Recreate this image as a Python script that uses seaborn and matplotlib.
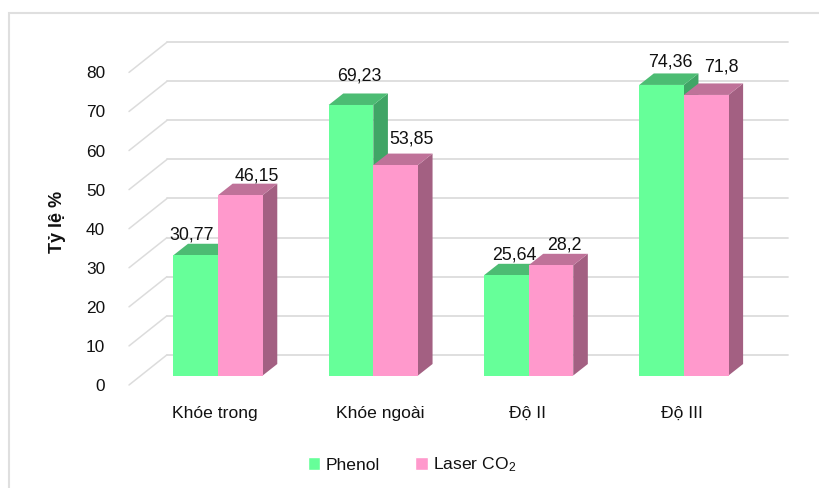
import matplotlib
matplotlib.use("Agg")
import matplotlib.pyplot as plt
from matplotlib.lines import Line2D
from matplotlib.patches import Polygon, Patch, Rectangle
from matplotlib.transforms import Affine2D
import pandas as pd
import seaborn as sns

# Results per group and treatment (percent)
categories = ["Khóe trong", "Khóe ngoài", "Độ II", "Độ III"]
phenol = [30.77, 69.23, 25.64, 74.36]
laser = [46.15, 53.85, 28.2, 71.8]
value_labels = ["30,77", "69,23", "25,64", "74,36", "46,15", "53,85", "28,2", "71,8"]
y_ticks = [0, 10, 20, 30, 40, 50, 60, 70, 80]
series = ["Phenol", "Laser CO$_2$"]

# Pixel nudges of the value labels above each bar's front top edge
label_nudge = [(-4, 20), (8, 29), (8, 20), (8.5, 23), (16, 19), (16, 26), (13, 20), (15, 28)]
# Horizontal pixel nudges of the category labels
category_nudge = [-3.5, 7, -1.5, -2]

W, H = 819, 488
GREEN, GREEN_SIDE, GREEN_TOP = "#66FF99", "#40A566", "#4CBC73"
PINK, PINK_SIDE, PINK_TOP = "#FF99CC", "#A36082", "#BF7299"
GRID = "#DCDCDC"
TEXT = "#111111"
DEPTH_X, DEPTH_Y = 14.6, 11.5

sns.set_theme(style="white")
plt.rcParams["font.family"] = ["Liberation Sans", "DejaVu Sans"]
plt.rcParams["mathtext.fontset"] = "custom"
plt.rcParams["mathtext.rm"] = "Liberation Sans"
plt.rcParams["mathtext.default"] = "rm"

fig = plt.figure(figsize=(W / 100, H / 100), dpi=100)
LEFT, RIGHT, BOTTOM_Y, TOP_Y = 140.4, 761.5, 375.5, 62.9
ax = fig.add_axes([LEFT / W, 1 - BOTTOM_Y / H, (RIGHT - LEFT) / W, (BOTTOM_Y - TOP_Y) / H])
ax.patch.set_alpha(0)

df = pd.DataFrame({
    "cat": categories * 2,
    "value": phenol + laser,
    "series": [series[0]] * 4 + [series[1]] * 4,
})
sns.barplot(data=df, x="cat", y="value", hue="series", hue_order=series,
            palette=[GREEN, PINK], width=0.575, gap=0, saturation=1,
            linewidth=0, ax=ax, zorder=4, legend=False)

ax.set_xlim(-0.5, 3.5)
ax.set_ylim(0, 80)
for s in ax.spines.values():
    s.set_visible(False)


def shifted(base, dx, dy):
    """base transform moved by dx, dy pixels (dy upwards)."""
    return base + Affine2D().translate(dx, dy)


# Back wall and side wall gridlines
WALL_BACK_X = (167 - LEFT) / (RIGHT - LEFT)
WALL_END_X = (788 - LEFT) / (RIGHT - LEFT)
WALL_FRONT_X = (129 - LEFT) / (RIGHT - LEFT)
back = shifted(ax.get_yaxis_transform(), 0, 20.7)
front = shifted(ax.get_yaxis_transform(), 0, -9.5)
for t in y_ticks:
    ax.add_line(Line2D([WALL_BACK_X, WALL_END_X], [t, t], transform=back,
                       color=GRID, lw=1.3, zorder=1, clip_on=False))
    # each end of the diagonal uses its own vertical shift
    p0 = front.transform((WALL_FRONT_X, t))
    p1 = back.transform((WALL_BACK_X, t))
    ax.add_line(Line2D([p0[0], p1[0]], [p0[1], p1[1]], transform=Affine2D(),
                       color=GRID, lw=1.1, zorder=1, clip_on=False))

# Side and top faces derived from each bar's rectangle
bars = list(ax.patches)
for i, bar in enumerate(bars):
    x0, x1 = bar.get_x(), bar.get_x() + bar.get_width()
    v = bar.get_height()
    (px0, py), (px1, _) = ax.transData.transform([(x0, v), (x1, 0)])
    _, py0 = ax.transData.transform((x0, 0))
    is_green = i < 4
    side = Polygon([(px1, py0), (px1 + DEPTH_X, py0 + DEPTH_Y), (px1 + DEPTH_X, py + DEPTH_Y), (px1, py)],
                   closed=True, transform=Affine2D(), facecolor=GREEN_SIDE if is_green else PINK_SIDE,
                   edgecolor="none", zorder=2 if is_green else 3, clip_on=False)
    top = Polygon([(px0, py), (px1, py), (px1 + DEPTH_X, py + DEPTH_Y), (px0 + DEPTH_X, py + DEPTH_Y)],
                  closed=True, transform=Affine2D(), facecolor=GREEN_TOP if is_green else PINK_TOP,
                  edgecolor="none", zorder=2 if is_green else 3, clip_on=False)
    ax.add_patch(side)
    ax.add_patch(top)
    ax.annotate(value_labels[i], xy=((x0 + x1) / 2, v), xycoords="data",
                xytext=label_nudge[i], textcoords="offset pixels",
                ha="center", va="center", fontsize=12.8, color=TEXT, zorder=6)

# Axis labels
ax.set_xticks(range(4), categories)
ax.set_yticks(y_ticks, [str(t) for t in y_ticks])
ax.tick_params(axis="y", length=0, pad=(LEFT - 105) * 0.72, labelsize=12.4, labelcolor=TEXT)
ax.tick_params(axis="x", length=0, pad=(412 - 6 - BOTTOM_Y) * 0.72, labelsize=12.6, labelcolor=TEXT)
for lab in ax.get_yticklabels():
    lab.set_transform(shifted(lab.get_transform(), 0, -9.5))
for lab, dx in zip(ax.get_xticklabels(), category_nudge):
    lab.set_transform(shifted(lab.get_transform(), dx, 0))
ax.set_xlabel("")
ax.set_ylabel("")
fig.text(57 / W, 1 - 222 / H, "Tỷ lệ %", rotation=90, ha="center", va="center",
         fontsize=13, fontweight="bold", color=TEXT)

# Legend
handles = [Patch(facecolor=GREEN, label=series[0]), Patch(facecolor=PINK, label=series[1])]
fig.legend(handles=handles, loc="center", bbox_to_anchor=(412 / W, 1 - 465 / H), ncol=2, frameon=False,
           fontsize=12.6, handlelength=0.7, handleheight=0.7, handletextpad=0.3, columnspacing=2.05,
           labelcolor=TEXT)

# Outer frame
fig.add_artist(Rectangle((9 / W, -0.1), 1.1, 1.1 - 13 / H, transform=fig.transFigure,
                         fill=False, edgecolor="#DFDFDF", lw=1.5))

fig.savefig("out.png", dpi=100, facecolor="white")
